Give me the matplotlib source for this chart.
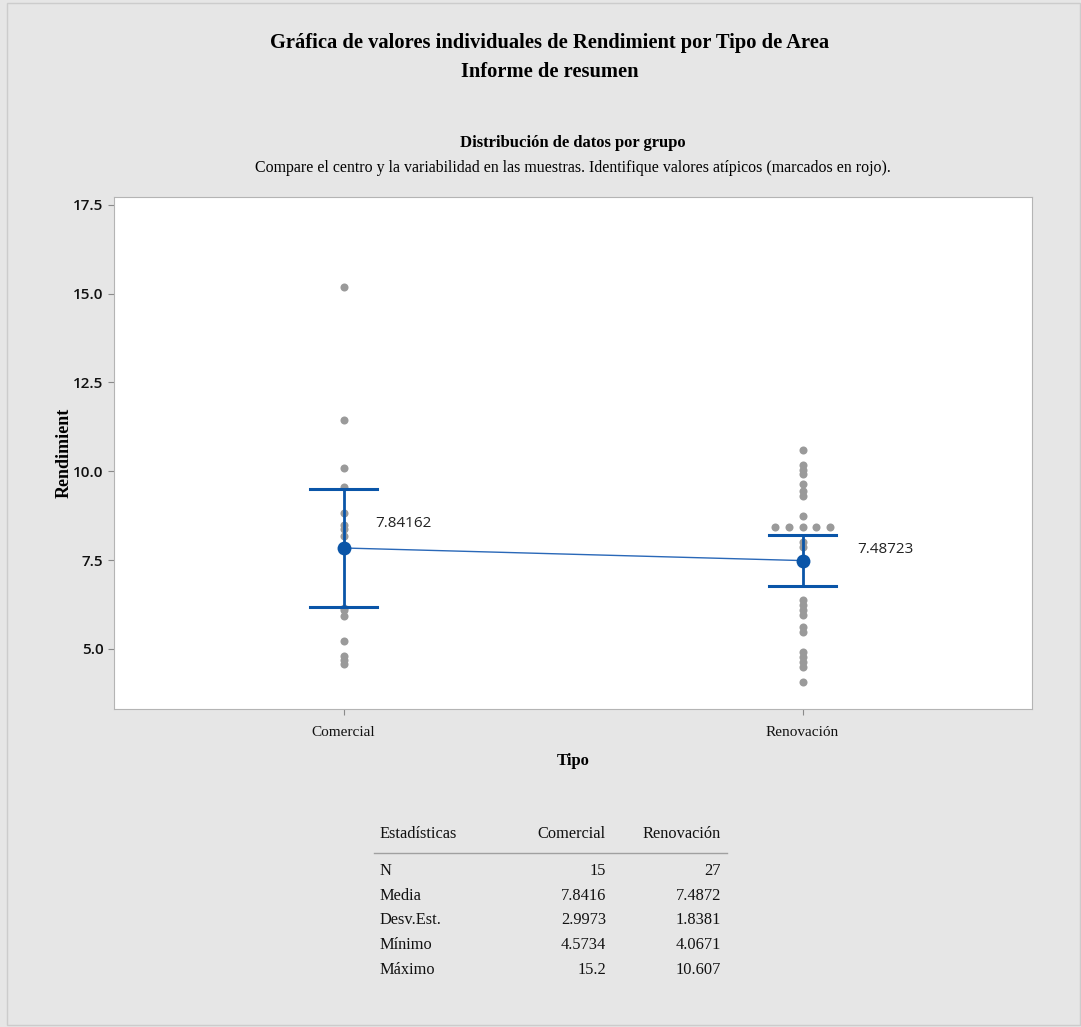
import numpy as np
import matplotlib
matplotlib.use("Agg")
import matplotlib.pyplot as plt
from matplotlib.patches import Rectangle

groups = ["Comercial", "Renovación"]
comercial = [15.2, 11.45, 10.08, 9.57, 8.84, 8.50, 8.37, 8.18,
             6.15, 6.10, 5.92, 5.21, 4.80, 4.68, 4.5734]
renovacion = [10.607, 10.18, 10.05, 9.93, 9.64, 9.45, 9.30, 8.73,
              8.42, 8.42, 8.42, 8.42, 8.42, 8.00, 7.87, 7.50,
              6.38, 6.24, 6.10, 5.95, 5.61, 5.47, 4.91, 4.77, 4.63, 4.50, 4.0671]
means = [7.84162, 7.48723]
ci_low = [6.182, 6.760]
ci_high = [9.501, 8.214]

stat_names = ["N", "Media", "Desv.Est.", "Mínimo", "Máximo"]
stat_com = ["15", "7.8416", "2.9973", "4.5734", "15.2"]
stat_ren = ["27", "7.4872", "1.8381", "4.0671", "10.607"]

serif = "Liberation Serif"
bg = "#e6e6e6"
blue = "#0a55a8"
grey = "#9a9a9a"

fig = plt.figure(figsize=(10.81, 10.27), dpi=100, facecolor=bg)
fig.patches.append(Rectangle((7 / 1081, 0.0015), 1 - 8 / 1081, 0.996,
                             transform=fig.transFigure, fill=False,
                             edgecolor="#cccccc", lw=1))

ax = fig.add_axes([114 / 1081, 1 - 709 / 1027, 918 / 1081, 512 / 1027])
ax.set_facecolor("white")

# individual values, ties spread sideways like Minitab does
for i, vals in enumerate([comercial, renovacion]):
    vals = np.array(vals)
    for v in np.unique(vals):
        k = np.sum(vals == v)
        offs = (np.arange(k) - (k - 1) / 2) * 0.03
        ax.plot(i + offs, [v] * k, "o", color=grey, ms=5.8, mec="none", zorder=2)

x = np.arange(len(groups))
ax.plot(x, means, "-", color="#2a68b8", lw=1, zorder=3)
for i in x:
    ax.plot([i, i], [ci_low[i], ci_high[i]], color=blue, lw=2, zorder=3)
    for yv in (ci_low[i], ci_high[i]):
        ax.plot([i - 0.074, i + 0.074], [yv, yv], color=blue, lw=2.2, zorder=3)
ax.plot(x, means, "o", color=blue, ms=10, mec="none", zorder=4)

ax.annotate(f"{means[0]:.5f}", (0, means[0]), xytext=(32, 24), textcoords="offset pixels",
            ha="left", va="center", fontsize=11, family="Open Sans", color="#222222")
ax.annotate(f"{means[1]:.5f}", (1, means[1]), xytext=(55, 11), textcoords="offset pixels",
            ha="left", va="center", fontsize=11, family="Open Sans", color="#222222")

ax.set_xlim(-0.5, 1.5)
ax.set_ylim(3.31, 17.72)
ax.set_xticks(x)
ax.set_xticklabels(groups, family=serif, fontsize=11)
ax.set_yticks([5.0, 7.5, 10.0, 12.5, 15.0, 17.5])
ax.set_yticklabels([f"{t:.1f}" for t in ax.get_yticks()], family="Open Sans",
                   fontsize=11, fontweight="semibold")
for s in ax.spines.values():
    s.set_color("#b4b4b4")
ax.tick_params(colors="#8a8a8a", labelcolor="#111111", length=4, width=0.8)
ax.tick_params(axis="x", pad=8)
ax.set_xlabel("Tipo", family=serif, fontweight="bold", fontsize=12, labelpad=10)
ax.set_ylabel("Rendimient", family=serif, fontweight="bold", fontsize=13, labelpad=0)

fig.text(550 / 1081, 1 - 43 / 1027, "Gráfica de valores individuales de Rendimient por Tipo de Area",
         ha="center", va="center", family=serif, fontweight="bold", fontsize=14.8)
fig.text(550 / 1081, 1 - 72 / 1027, "Informe de resumen",
         ha="center", va="center", family=serif, fontweight="bold", fontsize=14.8)
fig.text(573 / 1081, 1 - 143 / 1027, "Distribución de datos por grupo",
         ha="center", va="center", family=serif, fontweight="bold", fontsize=12)
fig.text(573 / 1081, 1 - 168 / 1027,
         "Compare el centro y la variabilidad en las muestras. Identifique valores atípicos (marcados en rojo).",
         ha="center", va="center", family=serif, fontsize=11.4)

# summary table
def fy(py):
    return 1 - py / 1027

tk = dict(family=serif, fontsize=11.8, va="center", color="#111111")
fig.text(379 / 1081, fy(834), "Estadísticas", ha="left", **tk)
fig.text(606 / 1081, fy(834), groups[0], ha="right", **tk)
fig.text(721 / 1081, fy(834), groups[1], ha="right", **tk)
fig.add_artist(plt.Line2D([374 / 1081, 727 / 1081], [fy(853), fy(853)],
                          color="#a0a0a0", lw=1))
for j, name in enumerate(stat_names):
    yy = fy(871 + j * 24.7)
    fig.text(379 / 1081, yy, name, ha="left", **tk)
    fig.text(606 / 1081, yy, stat_com[j], ha="right", **tk)
    fig.text(721 / 1081, yy, stat_ren[j], ha="right", **tk)

fig.savefig("out.png", dpi=100, facecolor=bg)
